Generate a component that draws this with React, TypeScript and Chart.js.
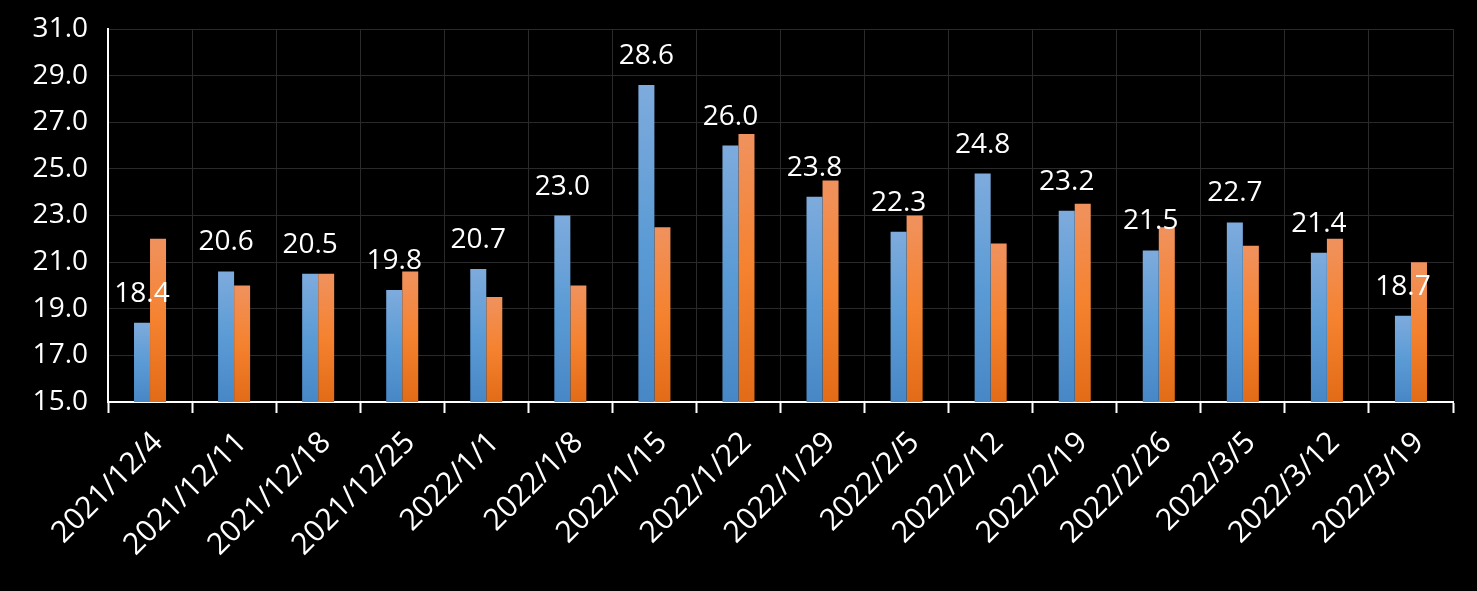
import React, { useEffect, useRef } from "react";
import { Chart, registerables } from "chart.js";

Chart.register(...registerables);

const categories = [
  "2021/12/4", "2021/12/11", "2021/12/18", "2021/12/25", "2022/1/1", "2022/1/8",
  "2022/1/15", "2022/1/22", "2022/1/29", "2022/2/5", "2022/2/12", "2022/2/19",
  "2022/2/26", "2022/3/5", "2022/3/12", "2022/3/19",
];
const blueValues = [18.4, 20.6, 20.5, 19.8, 20.7, 23.0, 28.6, 26.0, 23.8, 22.3, 24.8, 23.2, 21.5, 22.7, 21.4, 18.7];
const orangeValues = [22.0, 20.0, 20.5, 20.6, 19.5, 20.0, 22.5, 26.5, 24.5, 23.0, 21.8, 23.5, 22.5, 21.7, 22.0, 21.0];
const yMin = 15;
const yMax = 31;
const yStep = 2;

const FONT = "'Open Sans', 'Noto Sans', sans-serif";

function gradientFor(stops: string[]) {
  return (c: any) => {
    const chart = c.chart;
    const area = chart.chartArea;
    if (!area || c.type !== "data") return stops[1];
    const y = chart.scales.y;
    const top = y.getPixelForValue(c.raw);
    const bottom = y.getPixelForValue(yMin);
    if (!isFinite(top) || !isFinite(bottom) || bottom - top < 1) return stops[1];
    const g = chart.ctx.createLinearGradient(0, top, 0, bottom);
    g.addColorStop(0, stops[0]);
    g.addColorStop(0.5, stops[1]);
    g.addColorStop(1, stops[2]);
    return g;
  };
}

const labelPlugin = {
  id: "blueLabels",
  afterDatasetsDraw(chart: any) {
    const meta = chart.getDatasetMeta(0);
    const ctx = chart.ctx;
    ctx.save();
    ctx.font = `28px ${FONT}`;
    ctx.fillStyle = "#ffffff";
    ctx.textAlign = "center";
    ctx.textBaseline = "alphabetic";
    meta.data.forEach((bar: any, i: number) => {
      ctx.fillText(blueValues[i].toFixed(1), bar.x, bar.y - 21);
    });
    ctx.restore();
  },
};

export default function App() {
  const ref = useRef<HTMLCanvasElement>(null);
  useEffect(() => {
    if (!ref.current) return;
    const chart = new Chart(ref.current, {
      type: "bar",
      data: {
        labels: categories,
        datasets: [
          {
            data: blueValues,
            backgroundColor: gradientFor(["#7eabdd", "#5b9bd5", "#4887c6"]),
            categoryPercentage: 0.381,
            barPercentage: 1,
            borderWidth: 0,
          },
          {
            data: orangeValues,
            backgroundColor: gradientFor(["#f0925e", "#f5822f", "#e26b17"]),
            categoryPercentage: 0.381,
            barPercentage: 1,
            borderWidth: 0,
          },
        ],
      },
      options: {
        animation: false,
        responsive: false,
        layout: { padding: { left: 0, right: 24, top: 29, bottom: 0 } },
        plugins: { legend: { display: false }, tooltip: { enabled: false } },
        scales: {
          x: {
            offset: true,
            grid: {
              offset: true,
              color: "#2a2a2a",
              tickColor: "#ffffff",
              tickLength: 11,
              tickWidth: 2,
              lineWidth: 1,
            },
            border: { color: "#ffffff", width: 2 },
            ticks: {
              color: "#ffffff",
              font: { family: FONT, size: 30 },
              autoSkip: false,
              maxRotation: 45,
              minRotation: 45,
              padding: 12,
              labelOffset: 8,
            },
            afterFit: (s: any) => {
              s.height = 189;
              s.paddingLeft = 0;
              s.paddingRight = 0;
            },
          },
          y: {
            min: yMin,
            max: yMax,
            grid: { color: "#2a2a2a", drawTicks: false, lineWidth: 1 },
            border: { color: "#ffffff", width: 2 },
            ticks: {
              stepSize: yStep,
              color: "#ffffff",
              font: { family: FONT, size: 28 },
              padding: 20,
              callback: (v: any) => Number(v).toFixed(1),
            },
            afterFit: (s: any) => {
              s.width = 108;
              s.paddingTop = 0;
              s.paddingBottom = 0;
            },
          },
        },
      },
      plugins: [labelPlugin],
    });
    return () => chart.destroy();
  }, []);
  return (
    <div style={{ position: "fixed", left: 0, top: 0, width: 1477, height: 591, background: "#000" }}>
      <canvas ref={ref} width={1477} height={591} />
    </div>
  );
}
